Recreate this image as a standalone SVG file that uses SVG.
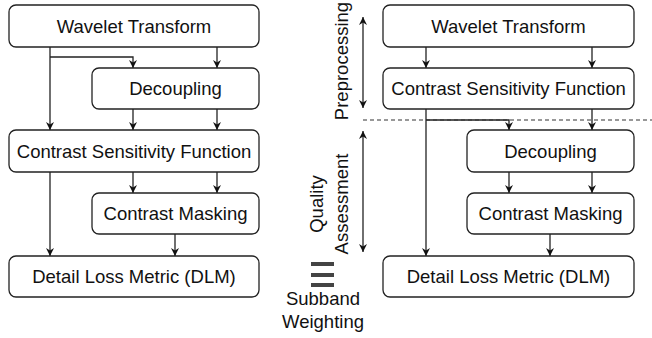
<svg xmlns="http://www.w3.org/2000/svg" width="652" height="338" viewBox="0 0 652 338">
<style>
.box{fill:#fff;stroke:#222;stroke-width:1.3}
.t{font-family:"Liberation Sans",Arial,sans-serif;font-size:18.5px;fill:#111;text-anchor:middle}
.c{fill:none;stroke:#222;stroke-width:1.3}
.d{fill:none;stroke:#333;stroke-width:1.2;stroke-dasharray:4,3}
</style>
<defs>
<marker id="ah" viewBox="0 0 10 10" refX="10" refY="5" markerWidth="8" markerHeight="8" markerUnits="userSpaceOnUse" orient="auto-start-reverse">
<path d="M0,0 L10,5 L0,10 L3,5 Z" fill="#111"/>
</marker>
</defs>
<g id="connectors">
<!-- left panel -->
<path class="c" d="M50,47 V130" marker-end="url(#ah)"/>
<path class="c" d="M50,57 H133 V68" marker-end="url(#ah)"/>
<path class="c" d="M217,47 V68" marker-end="url(#ah)"/>
<path class="c" d="M133,109 V130" marker-end="url(#ah)"/>
<path class="c" d="M217,109 V130" marker-end="url(#ah)"/>
<path class="c" d="M133,172 V193" marker-end="url(#ah)"/>
<path class="c" d="M217,172 V193" marker-end="url(#ah)"/>
<path class="c" d="M50,172 V256" marker-end="url(#ah)"/>
<path class="c" d="M175,234 V256" marker-end="url(#ah)"/>
<!-- right panel -->
<path class="c" d="M426,47 V68" marker-end="url(#ah)"/>
<path class="c" d="M592,47 V68" marker-end="url(#ah)"/>
<path class="c" d="M426,109 V256" marker-end="url(#ah)"/>
<path class="c" d="M426,120 H509 V130" marker-end="url(#ah)"/>
<path class="c" d="M592,109 V130" marker-end="url(#ah)"/>
<path class="c" d="M509,172 V193" marker-end="url(#ah)"/>
<path class="c" d="M592,172 V193" marker-end="url(#ah)"/>
<path class="c" d="M550,234 V256" marker-end="url(#ah)"/>
<!-- separator and stage arrows -->
<path class="d" d="M363,120 H652"/>
<path class="c" d="M363,17 V108" marker-start="url(#ah)" marker-end="url(#ah)"/>
<path class="c" d="M363,131 V252" marker-start="url(#ah)" marker-end="url(#ah)"/>
</g>
<g id="left-wavelet"><rect class="box" x="9" y="5" width="250" height="42" rx="7"/><text class="t" x="134" y="32.5">Wavelet Transform</text></g>
<g id="left-decoupling"><rect class="box" x="92" y="68" width="167" height="41" rx="7"/><text class="t" x="175.5" y="95">Decoupling</text></g>
<g id="left-csf"><rect class="box" x="9" y="130" width="250" height="42" rx="7"/><text class="t" x="134" y="157.5">Contrast Sensitivity Function</text></g>
<g id="left-masking"><rect class="box" x="92" y="193" width="167" height="41" rx="7"/><text class="t" x="175.5" y="220">Contrast Masking</text></g>
<g id="left-dlm"><rect class="box" x="9" y="256" width="250" height="41" rx="7"/><text class="t" x="134" y="283">Detail Loss Metric (DLM)</text></g>
<g id="right-wavelet"><rect class="box" x="383" y="5" width="251" height="42" rx="7"/><text class="t" x="508.5" y="32.5">Wavelet Transform</text></g>
<g id="right-csf"><rect class="box" x="383" y="68" width="251" height="41" rx="7"/><text class="t" x="508.5" y="95">Contrast Sensitivity Function</text></g>
<g id="right-decoupling"><rect class="box" x="467" y="130" width="167" height="42" rx="7"/><text class="t" x="550.5" y="157.5">Decoupling</text></g>
<g id="right-masking"><rect class="box" x="467" y="193" width="167" height="41" rx="7"/><text class="t" x="550.5" y="220">Contrast Masking</text></g>
<g id="right-dlm"><rect class="box" x="383" y="256" width="251" height="41" rx="7"/><text class="t" x="508.5" y="283">Detail Loss Metric (DLM)</text></g>
<g id="labels">
<text class="t" transform="translate(348,61) rotate(-90)">Preprocessing</text>
<text class="t" transform="translate(323,204) rotate(-90)">Quality</text>
<text class="t" transform="translate(348,204) rotate(-90)">Assessment</text>
<g fill="#444"><rect x="311" y="262" width="23" height="4"/><rect x="311" y="273" width="23" height="4"/><rect x="311" y="283" width="23" height="4"/></g>
<text class="t" x="323" y="305">Subband</text>
<text class="t" x="323" y="328">Weighting</text>
</g>
</svg>
